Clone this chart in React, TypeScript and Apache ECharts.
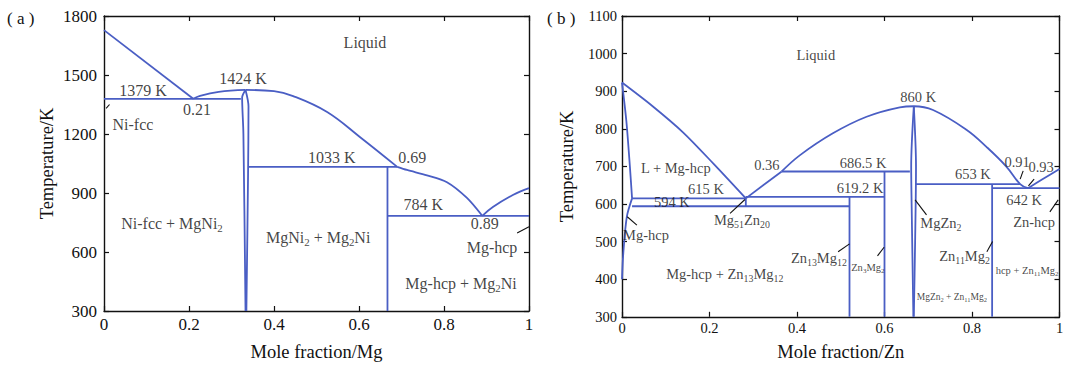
import React, { useEffect, useRef } from "react";
import * as echarts from "echarts";

// ---------------- Panel (a): Ni–Mg, x = mole fraction Mg ----------------
const aXMin = 0, aXMax = 1, aXStep = 0.2;
const aYMin = 300, aYMax = 1800, aYStep = 300;
const aLiquidusNi = [[0, 1728], [0.21, 1379]];
const aLiquidusMgNi2L = [[0.21, 1379], [0.226, 1394], [0.27, 1414], [0.333, 1424]];
const aLiquidusMgNi2R = [[0.333, 1424], [0.4, 1418], [0.445, 1393], [0.525, 1312], [0.602, 1185], [0.69, 1033]];
const aLiquidusMg2Ni = [[0.69, 1033], [0.713, 1017], [0.76, 990], [0.807, 955], [0.854, 875], [0.89, 784]];
const aLiquidusMg = [[0.89, 784], [0.915, 829], [0.962, 890], [1, 925]];
const aEutectic1379 = [[0, 1379], [0.322, 1379]];
const aMgNi2Left = [[0.333, 1424], [0.325, 1385], [0.328, 1200], [0.333, 300]];
const aMgNi2Right = [[0.333, 1424], [0.34, 1340], [0.339, 1000], [0.335, 300]];
const aPeritectic1033 = [[0.339, 1033], [0.69, 1033]];
const aMg2Ni = [[0.667, 1033], [0.667, 300]];
const aEutectic784 = [[0.667, 784], [1, 784]];
const aPointers = [
  [[0.005, 1330], [0.013, 1350]],
  [[0.972, 697], [1, 728]],
];
const aLabels: [number, number, string][] = [
  [0.614, 1663, "Liquid"],
  [0.092, 1419, "1379 K"],
  [0.219, 1327, "0.21"],
  [0.327, 1480, "1424 K"],
  [0.068, 1246, "Ni-fcc"],
  [0.536, 1083, "1033 K"],
  [0.725, 1083, "0.69"],
  [0.16, 747, "Ni-fcc + MgNi{s|2}"],
  [0.504, 676, "MgNi{s|2} + Mg{s|2}Ni"],
  [0.751, 839, "784 K"],
  [0.896, 747, "0.89"],
  [0.913, 625, "Mg-hcp"],
  [0.84, 442, "Mg-hcp + Mg{s|2}Ni"],
];

// ---------------- Panel (b): Mg–Zn, x = mole fraction Zn ----------------
const bXMin = 0, bXMax = 1, bXStep = 0.2;
const bYMin = 300, bYMax = 1100, bYStep = 100;
const bLiquidusMg = [[0, 923], [0.07, 860], [0.14, 790], [0.21, 706], [0.283, 615]];
const bSolidusMg = [[0, 923], [0.01, 820], [0.018, 700], [0.023, 615]];
const bSolvusMg = [[0.023, 615], [0.011, 566], [0.003, 470], [0, 400]];
const bEutectic615 = [[0.023, 615], [0.283, 615]];
const bEutectoid594 = [[0.023, 594], [0.52, 594]];
const bMg51Zn20 = [[0.283, 594], [0.283, 619.2]];
const bPeritectic619 = [[0.283, 619.2], [0.6, 619.2]];
const bZn13Mg12 = [[0.52, 619.2], [0.52, 300]];
const bPeritectic686 = [[0.365, 686.5], [0.658, 686.5]];
const bZn3Mg2 = [[0.6, 686.5], [0.6, 300]];
const bLiquidusLow = [[0.283, 615], [0.365, 686.5]];
const bLiquidusDome = [[0.365, 686.5], [0.407, 730], [0.482, 788], [0.559, 832], [0.635, 857], [0.667, 860], [0.711, 850], [0.788, 797], [0.833, 752], [0.879, 699], [0.91, 653], [0.928, 642]];
const bMgZn2Left = [[0.667, 860], [0.661, 700], [0.662, 600], [0.666, 300]];
const bMgZn2Right = [[0.667, 860], [0.672, 700], [0.67, 500], [0.667, 300]];
const bPeritectic653 = [[0.67, 653], [0.91, 653]];
const bZn11Mg2 = [[0.846, 653], [0.846, 300]];
const bEutectic642 = [[0.846, 642], [1, 642]];
const bLiquidusZn = [[0.928, 642], [0.96, 665], [1, 693]];
const bPointers = [
  [[0.012, 566], [0.034, 544]],
  [[0.247, 575], [0.281, 612]],
  [[0.494, 473], [0.52, 494]],
  [[0.584, 462], [0.599, 485]],
  [[0.67, 611], [0.696, 571]],
  [[0.834, 473], [0.847, 500]],
  [[0.917, 688], [0.91, 666]],
  [[0.942, 666], [0.929, 648]],
  [[0.978, 579], [0.997, 611]],
];
const bLabels: [number, number, string][] = [
  [0.443, 996, "Liquid"],
  [0.677, 885, "860 K"],
  [0.551, 709, "686.5 K"],
  [0.331, 704, "0.36"],
  [0.123, 696, "L + Mg-hcp"],
  [0.192, 640, "615 K"],
  [0.114, 605, "594 K"],
  [0.544, 642, "619.2 K"],
  [0.274, 557, "Mg{s|51}Zn{s|20}"],
  [0.055, 517, "Mg-hcp"],
  [0.235, 414, "Mg-hcp + Zn{s|13}Mg{s|12}"],
  [0.45, 456, "Zn{s|13}Mg{s|12}"],
  [0.729, 549, "MgZn{s|2}"],
  [0.783, 462, "Zn{s|11}Mg{s|2}"],
  [0.802, 680, "653 K"],
  [0.919, 611, "642 K"],
  [0.942, 552, "Zn-hcp"],
  [0.903, 712, "0.91"],
  [0.958, 698, "0.93"],
];
const bSmallLabels: [number, number, string][] = [
  [0.562, 432, "Zn{s|3}Mg{s|2}"],
  [0.926, 424, "hcp + Zn{s|11}Mg{s|2}"],
];
const bTinyLabels: [number, number, string][] = [
  [0.754, 353, "MgZn{s|2} + Zn{s|11}Mg{s|2}"],
];

const SERIF = "'Liberation Serif', 'DejaVu Serif', serif";
const BLUE = "#4a5ec4";
const INK = "#111111";

function phaseLine(axis: number, data: number[][], smooth: number | boolean = false) {
  return {
    type: "line",
    xAxisIndex: axis,
    yAxisIndex: axis,
    data,
    smooth,
    symbol: "none",
    silent: true,
    lineStyle: { color: BLUE, width: 1.8 },
  };
}

function pointer(axis: number, data: number[][]) {
  return {
    type: "line",
    xAxisIndex: axis,
    yAxisIndex: axis,
    data,
    symbol: "none",
    silent: true,
    lineStyle: { color: INK, width: 1.1 },
  };
}

function labels(axis: number, items: [number, number, string][], size: number) {
  const sub = Math.round(size * 0.68 * 10) / 10;
  return {
    type: "scatter",
    xAxisIndex: axis,
    yAxisIndex: axis,
    symbolSize: 1,
    silent: true,
    z: 10,
    itemStyle: { color: "rgba(0,0,0,0)" },
    data: items.map(([x, y, t]) => ({ value: [x, y], name: t })),
    label: {
      show: true,
      position: "inside",
      formatter: (p: any) => p.name,
      fontFamily: SERIF,
      fontSize: size,
      lineHeight: Math.round(size * 1.3),
      color: INK,
      rich: {
        s: {
          fontFamily: SERIF,
          fontSize: sub,
          lineHeight: Math.round(sub * 1.1),
          verticalAlign: "bottom",
          color: INK,
        },
      },
    },
  };
}

const plain = (v: number) => String(v);

function xAxes(grid: number, min: number, max: number, step: number, name: string, labelSize: number, margin: number, gap: number) {
  const common = {
    type: "value",
    gridIndex: grid,
    min,
    max,
    interval: step,
    splitLine: { show: false },
    axisLine: { show: true, onZero: false, lineStyle: { color: INK, width: 1.4 } },
    axisTick: { show: true, inside: true, length: 5, lineStyle: { color: INK, width: 1.2 } },
  };
  return [
    {
      ...common,
      position: "bottom",
      name,
      nameLocation: "middle",
      nameGap: gap,
      nameTextStyle: { fontFamily: SERIF, fontSize: 18.5, color: INK },
      axisLabel: { fontFamily: SERIF, fontSize: labelSize, color: INK, margin, formatter: plain },
    },
    { ...common, position: "top", axisLabel: { show: false } },
  ];
}

function yAxes(grid: number, min: number, max: number, step: number, name: string, labelSize: number, margin: number, gap: number) {
  const common = {
    type: "value",
    gridIndex: grid,
    min,
    max,
    interval: step,
    splitLine: { show: false },
    axisLine: { show: true, onZero: false, lineStyle: { color: INK, width: 1.4 } },
    axisTick: { show: true, inside: true, length: 5, lineStyle: { color: INK, width: 1.2 } },
  };
  return [
    {
      ...common,
      position: "left",
      name,
      nameLocation: "middle",
      nameGap: gap,
      nameTextStyle: { fontFamily: SERIF, fontSize: 18.5, color: INK },
      axisLabel: { fontFamily: SERIF, fontSize: labelSize, color: INK, margin, formatter: plain },
    },
    { ...common, position: "right", axisLabel: { show: false } },
  ];
}

export default function App() {
  const ref = useRef<HTMLDivElement>(null);
  useEffect(() => {
    document.body.style.margin = "0";
    const chart = echarts.init(ref.current!, null, { renderer: "svg" });
    const A = 0; // axis index for panel a (bottom x / left y)
    const B = 2; // axis index for panel b
    chart.setOption({
      animation: false,
      backgroundColor: "#ffffff",
      grid: [
        { left: 104, top: 16, width: 425, height: 295 },
        { left: 622, top: 16, width: 437.5, height: 300.8 },
      ],
      xAxis: [
        ...xAxes(0, aXMin, aXMax, aXStep, "Mole fraction/Mg", 17, 5, 31),
        ...xAxes(1, bXMin, bXMax, bXStep, "Mole fraction/Zn", 14.5, 4, 26),
      ],
      yAxis: [
        ...yAxes(0, aYMin, aYMax, aYStep, "Temperature/K", 17, 7, 48),
        ...yAxes(1, bYMin, bYMax, bYStep, "Temperature/K", 14.5, 5, 46),
      ],
      graphic: [
        { type: "text", left: 7, top: 10, style: { text: "( a )", font: `17px ${SERIF}`, fill: INK } },
        { type: "text", left: 547, top: 10, style: { text: "( b )", font: `17px ${SERIF}`, fill: INK } },
      ],
      series: [
        phaseLine(A, aLiquidusNi),
        phaseLine(A, aLiquidusMgNi2L, 0.4),
        phaseLine(A, aLiquidusMgNi2R, 0.4),
        phaseLine(A, aLiquidusMg2Ni, 0.3),
        phaseLine(A, aLiquidusMg, 0.4),
        phaseLine(A, aEutectic1379),
        phaseLine(A, aMgNi2Left, 0.3),
        phaseLine(A, aMgNi2Right, 0.3),
        phaseLine(A, aPeritectic1033),
        phaseLine(A, aMg2Ni),
        phaseLine(A, aEutectic784),
        ...aPointers.map((p) => pointer(A, p)),
        labels(A, aLabels, 16),

        phaseLine(B, bLiquidusMg, 0.3),
        phaseLine(B, bSolidusMg, 0.3),
        phaseLine(B, bSolvusMg, 0.3),
        phaseLine(B, bEutectic615),
        phaseLine(B, bEutectoid594),
        phaseLine(B, bMg51Zn20),
        phaseLine(B, bPeritectic619),
        phaseLine(B, bZn13Mg12),
        phaseLine(B, bPeritectic686),
        phaseLine(B, bZn3Mg2),
        phaseLine(B, bLiquidusLow),
        phaseLine(B, bLiquidusDome, 0.4),
        phaseLine(B, bMgZn2Left, 0.3),
        phaseLine(B, bMgZn2Right, 0.3),
        phaseLine(B, bPeritectic653),
        phaseLine(B, bZn11Mg2),
        phaseLine(B, bEutectic642),
        phaseLine(B, bLiquidusZn, 0.3),
        ...bPointers.map((p) => pointer(B, p)),
        labels(B, bLabels, 14.5),
        labels(B, bSmallLabels, 10.5),
        labels(B, bTinyLabels, 9.5),
      ],
    });
    return () => chart.dispose();
  }, []);
  return (
    <div
      ref={ref}
      style={{ position: "fixed", left: 0, top: 0, width: 1080, height: 370, background: "#fff" }}
    />
  );
}
